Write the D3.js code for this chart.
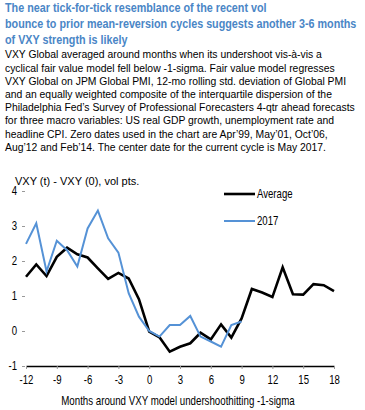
<!DOCTYPE html>
<html>
<head>
<meta charset="utf-8">
<script src="https://cdn.jsdelivr.net/npm/d3@7"></script>
<style>
  body { margin: 0; background: #fff; }
  svg { display: block; }
  text { font-family: "Liberation Sans", Arial, sans-serif; }
</style>
</head>
<body>
<svg id="chart" width="365" height="410"></svg>
<script>
// months around the -1-sigma undershoot
const months = d3.range(-12, 19);
const average = [1.55, 1.9, 1.57, 2.12, 2.38, 2.19, 2.1, 1.79, 1.49, 1.66, 1.5, 0.91,
  -0.02, -0.18, -0.59, -0.45, -0.35, -0.05, -0.24, 0.19, -0.19, 0.36,
  1.2, 1.1, 0.97, 1.82, 1.05, 1.04, 1.34, 1.31, 1.14];
const cycle2017 = [2.49, 3.08, 1.7, 2.58, 2.31, 1.84, 2.93, 3.44, 2.65, 2.24, 1.08, 0.41,
  0, -0.16, 0.17, 0.17, 0.43, -0.16, -0.3, -0.45, 0.17, 0.27];
const xTicks = d3.range(-12, 19, 3);
const yTicks = [-1, 0, 1, 2, 3, 4];

const titleLines = [
  'The near tick-for-tick resemblance of the recent vol',
  'bounce to prior mean-reversion cycles suggests another 3-6 months',
  'of VXY strength is likely'
];
const noteLines = [
  'VXY Global averaged around months when its undershoot vis-à-vis a',
  'cyclical fair value model fell below -1-sigma. Fair value model regresses',
  'VXY Global on JPM Global PMI, 12-mo rolling std. deviation of Global PMI',
  'and an equally weighted composite of the interquartile dispersion of the',
  'Philadelphia Fed’s Survey of Professional Forecasters 4-qtr ahead forecasts',
  'for three macro variables: US real GDP growth, unemployment rate and',
  'headline CPI. Zero dates used in the chart are Apr’99, May’01, Oct’06,',
  'Aug’12 and Feb’14. The center date for the current cycle is May 2017.'
];

const FONT = '"Liberation Sans", Arial, sans-serif';

// squeeze text horizontally around its anchor, the reference uses a narrow face
function condense(sel, f) {
  sel.each(function () {
    const ax = +d3.select(this).attr('x') || 0;
    d3.select(this).attr('transform', `translate(${ax},0) scale(${f},1) translate(${-ax},0)`);
  });
}

// scale a block of lines so that one reference line gets a given width
function fitBlock(sel, refIndex, refWidth) {
  const f = refWidth / sel.nodes()[refIndex].getComputedTextLength();
  sel.call(condense, f);
}

const svg = d3.select('#chart');

// heading
svg.append('g')
  .selectAll('text')
  .data(titleLines)
  .join('text')
  .attr('x', 5)
  .attr('y', (d, i) => 12 + i * 16)
  .attr('font-size', '12.5px')
  .attr('font-weight', 'bold')
  .attr('fill', '#4a86c6')
  .text((d) => d)
  .call(fitBlock, 1, 352);

svg.append('g')
  .selectAll('text')
  .data(noteLines)
  .join('text')
  .attr('x', 5)
  .attr('y', (d, i) => 58.5 + i * 13.2)
  .attr('font-size', '11.7px')
  .attr('fill', '#000')
  .text((d) => d)
  .call(fitBlock, 0, 317);

const x = d3.scaleLinear().domain([-12, 18]).range([26, 334]);
const y = d3.scaleLinear().domain([-1, 4]).range([366, 191]);

// y axis: labels and small gray ticks, no line
const yAxis = svg.append('g')
  .attr('transform', 'translate(25,0)')
  .call(d3.axisLeft(y).tickValues(yTicks).tickSize(3).tickPadding(5).tickFormat((d) => String(d)));
yAxis.select('.domain').remove();
yAxis.selectAll('.tick line').attr('stroke', '#999');
yAxis.selectAll('.tick text')
  .attr('font-size', '12px')
  .attr('fill', '#000')
  .style('font-family', FONT)
  .call(condense, 0.8);

// x axis at y = -1
const xAxis = svg.append('g')
  .attr('transform', `translate(0,${y(-1)})`)
  .call(d3.axisBottom(x).tickValues(xTicks).tickSize(3).tickSizeOuter(0).tickPadding(6).tickFormat((d) => String(d)));
xAxis.select('.domain').attr('stroke', '#000').attr('stroke-width', 1.3);
xAxis.selectAll('.tick line').attr('stroke', '#999');
xAxis.selectAll('.tick text')
  .attr('font-size', '12px')
  .attr('fill', '#000')
  .style('font-family', FONT)
  .call(condense, 0.8);

svg.append('text')
  .attr('x', 15)
  .attr('y', 185)
  .attr('font-size', '11px')
  .text('VXY (t) - VXY (0), vol pts.');

svg.append('text')
  .attr('x', 178)
  .attr('y', 405)
  .attr('text-anchor', 'middle')
  .attr('font-size', '12px')
  .text('Months around VXY model undershoothitting -1-sigma')
  .call(condense, 0.81);

const line = d3.line()
  .x((d, i) => x(months[i]))
  .y((d) => y(d));

svg.append('path')
  .datum(average)
  .attr('fill', 'none')
  .attr('stroke', '#000')
  .attr('stroke-width', 2.6)
  .attr('d', line);

svg.append('path')
  .datum(cycle2017)
  .attr('fill', 'none')
  .attr('stroke', '#5592d6')
  .attr('stroke-width', 2)
  .attr('d', line);

// legend
const legend = [
  { label: 'Average', color: '#000', width: 2.6, y: 194 },
  { label: '2017', color: '#5592d6', width: 2, y: 221 }
];
const lg = svg.append('g')
  .selectAll('g')
  .data(legend)
  .join('g');
lg.append('line')
  .attr('x1', 224).attr('x2', 255)
  .attr('y1', (d) => d.y).attr('y2', (d) => d.y)
  .attr('stroke', (d) => d.color)
  .attr('stroke-width', (d) => d.width);
lg.append('text')
  .attr('x', 257)
  .attr('y', (d) => d.y + 4.5)
  .attr('font-size', '12px')
  .text((d) => d.label)
  .call(condense, 0.8);
</script>
</body>
</html>
